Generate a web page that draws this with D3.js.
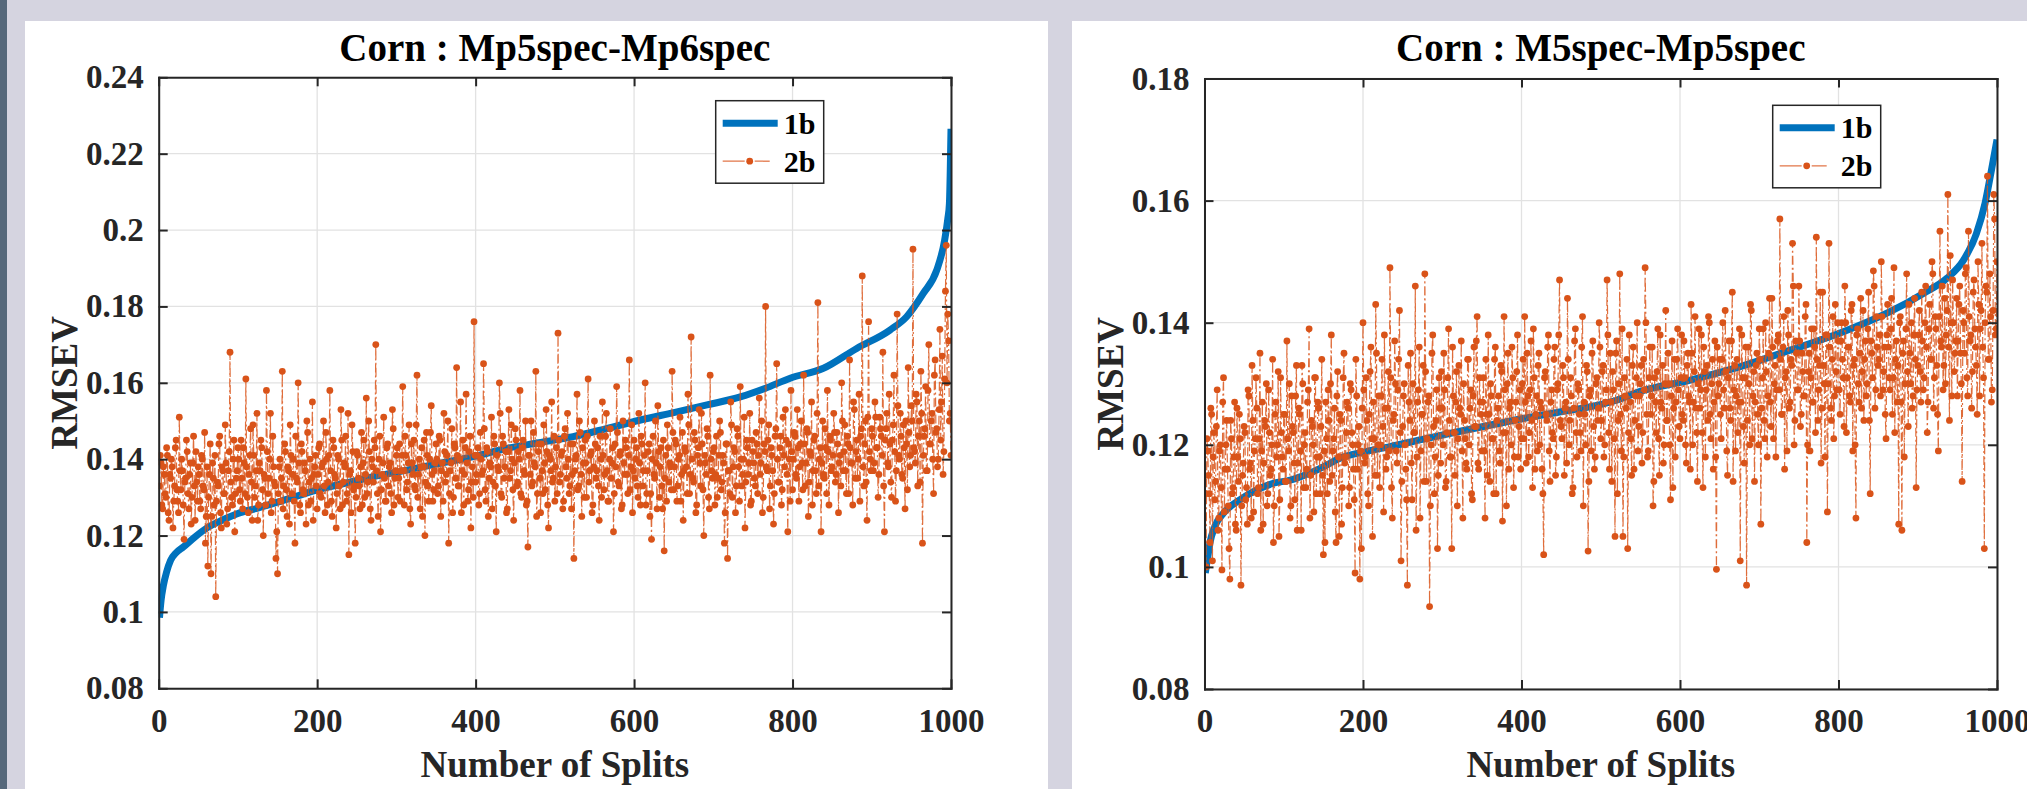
<html>
  <head>
    <meta charset="UTF-8">
    <script src="https://d3js.org/d3.v7.min.js"></script>
    <style type="text/css">
    body {
      margin: 0;
      background: #d5d4e0;
      overflow: hidden;
    }
    text {
      font-family: 'Liberation Serif', 'Times New Roman', serif;
      font-weight: bold;
    }
    </style>
  </head>
  <body>
  </body>
  <script>
    var splitsX = [0, 200, 400, 600, 800, 1000];
    var splitsLabels = ["0", "200", "400", "600", "800", "1000"];
    var leftTicksY = [0.08, 0.10, 0.12, 0.14, 0.16, 0.18, 0.20, 0.22, 0.24];
    var leftLabelsY = ["0.08", "0.1", "0.12", "0.14", "0.16", "0.18", "0.2", "0.22", "0.24"];
    var rightTicksY = [0.08, 0.10, 0.12, 0.14, 0.16, 0.18];
    var rightLabelsY = ["0.08", "0.1", "0.12", "0.14", "0.16", "0.18"];
    var seriesNames = ["1b", "2b"];

    // Mp5spec-Mp6spec : sorted 1b curve (split, RMSEV)
    var left1bX = [1,3,6,10,15,22,31,45,61,80,103,125,145,170,199,235,271,310,355,400,439,480,523,565,607,650,692,734,765,797,839,881,923,944,965,982,992,996,998,999,1000];
    var left1bY = [0.0985,0.103,0.107,0.1105,0.1135,0.1155,0.117,0.1195,0.122,0.124,0.126,0.1272,0.1284,0.130,0.1319,0.1337,0.1354,0.137,0.1389,0.1408,0.1428,0.1443,0.1459,0.148,0.1502,0.1522,0.1542,0.1563,0.1585,0.1612,0.1638,0.169,0.1738,0.1773,0.1834,0.1895,0.1974,0.203,0.207,0.215,0.2265];
    // Mp5spec-Mp6spec : 2b at odd splits 1,3,...,999
    var left2bOdd = [
      .133,.139,.127,.136,.130,.141,.124,.135,.138,.129,.143,.132,.126,.137,.140,.128,.134,.145,.131,.136,.123,.139,.133,.142,.129,
      .136,.127,.140,.132,.118,.138,.130,.144,.125,.135,.141,.129,.133,.146,.122,.137,.131,.139,.127,.142,.134,.128,.145,.131,.137,
      .140,.129,.135,.143,.131,.138,.126,.141,.134,.149,.130,.137,.124,.139,.145,.132,.136,.128,.142,.135,.152,.129,.138,.133,.121,
      .131,.140,.135,.127,.144,.132,.138,.123,.141,.136,.129,.146,.134,.139,.126,.142,.131,.137,.150,.128,.140,.135,.124,.138,.133,
      .136,.144,.130,.139,.133,.147,.128,.141,.137,.125,.143,.135,.131,.140,.127,.145,.134,.138,.129,.152,.136,.126,.142,.133,.130,
      .141,.133,.138,.128,.145,.136,.131,.150,.127,.140,.134,.143,.137,.125,.146,.132,.139,.135,.129,.144,.138,.131,.153,.128,.137,
      .143,.135,.129,.141,.137,.146,.132,.139,.127,.144,.136,.133,.149,.130,.140,.138,.125,.145,.134,.141,.129,.147,.136,.132,.139,
      .140,.133,.145,.137,.129,.142,.136,.150,.131,.139,.126,.144,.135,.141,.133,.155,.137,.128,.143,.139,.132,.146,.134,.130,.141,
      .136,.143,.131,.140,.137,.148,.129,.142,.135,.138,.127,.146,.133,.141,.137,.152,.130,.144,.138,.126,.142,.135,.149,.132,.139,
      .145,.134,.140,.131,.143,.137,.150,.129,.141,.136,.133,.147,.138,.125,.142,.135,.144,.131,.139,.153,.128,.141,.137,.134,.146,
      .138,.131,.145,.136,.142,.129,.148,.135,.140,.133,.127,.144,.137,.141,.132,.150,.136,.143,.130,.139,.146,.134,.141,.126,.138,
      .144,.137,.133,.146,.130,.141,.136,.152,.129,.140,.135,.143,.131,.138,.147,.133,.142,.128,.139,.145,.136,.141,.132,.149,.137,
      .135,.143,.130,.139,.146,.133,.141,.128,.137,.144,.131,.140,.136,.150,.127,.142,.138,.133,.145,.135,.129,.143,.139,.132,.147,
      .138,.144,.133,.141,.129,.147,.137,.142,.131,.149,.136,.140,.134,.145,.128,.143,.139,.152,.132,.141,.136,.146,.127,.140,.135,
      .143,.136,.130,.141,.147,.134,.139,.126,.144,.137,.131,.149,.138,.142,.133,.146,.129,.140,.136,.151,.134,.143,.139,.128,.145,
      .139,.133,.144,.141,.136,.150,.130,.142,.138,.145,.127,.143,.137,.131,.148,.140,.134,.146,.132,.141,.153,.136,.144,.129,.142,
      .140,.146,.135,.143,.138,.150,.132,.144,.139,.147,.134,.141,.128,.145,.137,.152,.133,.143,.139,.136,.148,.131,.142,.146,.137,
      .141,.147,.136,.144,.139,.133,.150,.142,.137,.146,.131,.143,.139,.155,.135,.145,.140,.129,.148,.138,.144,.134,.151,.142,.137,
      .146,.139,.151,.143,.136,.148,.141,.133,.145,.152,.138,.144,.130,.149,.142,.137,.154,.140,.146,.135,.143,.150,.132,.147,.141,
      .150,.143,.139,.155,.146,.134,.152,.141,.148,.137,.158,.144,.150,.140,.162,.147,.138,.153,.145,.167,.142,.184,.160,.171,.152
    ];
    // Mp5spec-Mp6spec : 2b at even splits 2,4,...,1000
    var left2bEven = [
      .141,.128,.138,.131,.143,.126,.136,.140,.122,.133,.145,.129,.151,.132,.137,.119,.135,.142,.127,.139,.130,.146,.124,.134,.138,
      .129,.141,.133,.147,.125,.112,.136,.110,.139,.128,.104,.134,.144,.126,.138,.131,.149,.123,.137,.168,.130,.140,.121,.135,.143,
      .132,.145,.127,.139,.161,.130,.136,.148,.124,.141,.133,.152,.128,.137,.143,.120,.135,.158,.131,.140,.126,.146,.134,.114,.110,
      .138,.129,.163,.133,.142,.125,.137,.149,.131,.140,.118,.135,.160,.128,.144,.132,.139,.123,.147,.134,.129,.155,.136,.141,.127,
      .143,.131,.138,.150,.126,.140,.134,.158,.129,.145,.136,.122,.141,.133,.153,.128,.139,.146,.131,.115,.137,.149,.132,.118,.142,
      .135,.127,.147,.139,.130,.156,.134,.142,.124,.138,.145,.170,.131,.140,.121,.136,.151,.129,.143,.133,.139,.126,.148,.135,.141,
      .130,.144,.137,.159,.128,.141,.134,.149,.123,.139,.145,.132,.162,.136,.127,.143,.138,.120,.147,.133,.140,.154,.129,.137,.144,
      .131,.146,.125,.139,.152,.134,.141,.118,.137,.148,.130,.143,.164,.133,.140,.126,.145,.136,.157,.129,.142,.122,.138,.176,.134,
      .141,.128,.147,.136,.165,.132,.143,.125,.139,.151,.134,.144,.121,.138,.160,.131,.146,.135,.142,.127,.153,.137,.140,.124,.148,
      .133,.142,.158,.130,.145,.136,.128,.117,.141,.150,.134,.139,.163,.131,.144,.126,.137,.149,.132,.142,.122,.140,.155,.135,.129,
      .143,.173,.134,.141,.127,.146,.138,.152,.131,.144,.136,.114,.140,.157,.133,.147,.125,.139,.145,.130,.161,.137,.142,.128,.150,
      .135,.143,.124,.140,.155,.132,.146,.137,.129,.148,.139,.121,.144,.159,.134,.141,.127,.150,.136,.143,.131,.166,.138,.126,.145,
      .140,.133,.152,.128,.144,.137,.160,.131,.142,.125,.119,.146,.135,.139,.154,.130,.143,.127,.116,.141,.149,.134,.138,.163,.132,
      .145,.129,.140,.151,.136,.124,.143,.138,.157,.131,.172,.135,.147,.126,.141,.153,.133,.144,.120,.139,.148,.130,.162,.137,.142,
      .128,.146,.135,.150,.132,.141,.118,.144,.114,.137,.155,.130,.143,.126,.148,.138,.159,.133,.140,.122,.145,.136,.152,.129,.142,
      .135,.147,.131,.156,.139,.126,.144,.180,.137,.149,.133,.141,.123,.146,.165,.134,.143,.128,.151,.138,.145,.121,.140,.158,.132,
      .147,.136,.153,.129,.144,.139,.162,.133,.148,.125,.142,.155,.137,.146,.131,.181,.140,.121,.150,.135,.143,.158,.128,.145,.138,
      .152,.134,.147,.126,.141,.160,.137,.149,.131,.144,.166,.139,.128,.153,.142,.135,.157,.146,.188,.133,.150,.124,.176,.140,.148,
      .137,.155,.143,.130,.151,.146,.168,.121,.148,.139,.157,.134,.145,.162,.129,.178,.141,.152,.136,.149,.127,.144,.164,.138,.154,
      .195,.142,.157,.133,.150,.163,.118,.146,.159,.137,.170,.144,.152,.131,.166,.148,.140,.174,.155,.136,.161,.196,.178,.150,.141
    ];

    // M5spec-Mp5spec : sorted 1b curve
    var right1bX = [1,4,7,13,24,45,66,87,108,130,150,171,200,234,275,318,360,402,445,486,520,549,613,676,739,802,865,907,937,958,974,985,993,1000];
    var right1bY = [0.099,0.1015,0.104,0.1066,0.1088,0.111,0.1126,0.1137,0.1142,0.1152,0.1164,0.1178,0.1188,0.1197,0.1209,0.1221,0.1232,0.1243,0.1253,0.1262,0.1273,0.1287,0.1306,0.1328,0.1355,0.1383,0.1418,0.1448,0.1473,0.1503,0.1546,0.1596,0.165,0.170];
    // M5spec-Mp5spec : 2b at odd splits
    var right2bOdd = [
      .112,.121,.115,.104,.125,.118,.111,.123,.106,.119,.113,.127,.109,.120,.116,.103,.124,.112,.118,.107,.126,.114,.121,.110,.117,
      .122,.113,.129,.116,.108,.124,.119,.131,.112,.121,.106,.127,.117,.123,.110,.129,.115,.120,.104,.125,.118,.132,.111,.122,.116,
      .125,.114,.121,.130,.110,.123,.117,.128,.106,.126,.119,.133,.113,.122,.116,.129,.108,.124,.120,.131,.112,.127,.118,.123,.115,
      .119,.127,.112,.124,.130,.115,.121,.109,.128,.118,.125,.107,.131,.117,.122,.126,.113,.129,.120,.111,.134,.116,.123,.119,.126,
      .129,.118,.124,.110,.132,.121,.127,.115,.135,.120,.113,.128,.123,.138,.116,.126,.119,.131,.108,.125,.130,.117,.134,.122,.114,
      .128,.120,.111,.133,.124,.117,.130,.122,.106,.127,.136,.119,.125,.114,.132,.121,.128,.110,.135,.123,.118,.129,.115,.126,.132,
      .120,.129,.114,.131,.124,.118,.136,.122,.127,.110,.133,.125,.119,.130,.121,.116,.134,.126,.112,.128,.123,.137,.117,.131,.125,
      .127,.119,.134,.115,.125,.130,.121,.112,.136,.124,.128,.117,.132,.122,.129,.110,.135,.126,.120,.131,.118,.127,.138,.123,.116,
      .130,.121,.127,.135,.118,.129,.124,.139,.116,.128,.133,.120,.126,.112,.131,.125,.136,.119,.127,.122,.134,.115,.129,.138,.124,
      .121,.131,.126,.117,.134,.124,.128,.113,.137,.122,.130,.125,.119,.141,.127,.120,.132,.114,.129,.135,.123,.118,.131,.126,.136,
      .124,.133,.120,.129,.138,.116,.127,.132,.121,.135,.112,.130,.125,.139,.118,.128,.134,.122,.127,.115,.136,.124,.131,.119,.128,
      .133,.122,.129,.140,.118,.131,.125,.136,.114,.127,.132,.121,.138,.126,.117,.130,.124,.135,.120,.128,.113,.134,.127,.139,.123,
      .131,.125,.137,.120,.133,.128,.116,.135,.127,.141,.122,.130,.126,.138,.113,.132,.129,.124,.140,.121,.134,.127,.118,.136,.130,
      .125,.134,.129,.142,.119,.131,.126,.137,.114,.133,.128,.122,.139,.127,.131,.117,.136,.124,.130,.143,.121,.132,.127,.135,.120,
      .134,.126,.139,.121,.132,.128,.144,.123,.136,.130,.118,.137,.129,.134,.125,.141,.131,.119,.138,.127,.133,.146,.124,.135,.129,
      .137,.125,.132,.128,.143,.120,.135,.131,.127,.139,.122,.134,.129,.145,.126,.133,.118,.138,.130,.136,.124,.141,.128,.132,.140,
      .129,.137,.134,.123,.140,.131,.136,.127,.143,.133,.120,.138,.130,.135,.126,.142,.134,.128,.139,.124,.137,.131,.146,.129,.136,
      .134,.128,.141,.132,.125,.138,.136,.129,.144,.131,.122,.137,.133,.140,.127,.135,.118,.139,.132,.143,.130,.126,.138,.134,.129,
      .138,.132,.145,.129,.140,.136,.127,.143,.134,.148,.131,.139,.125,.141,.137,.146,.133,.130,.142,.136,.151,.128,.140,.135,.144,
      .137,.146,.130,.142,.135,.149,.128,.141,.138,.132,.147,.136,.125,.143,.139,.153,.131,.140,.145,.134,.148,.127,.142,.157,.139
    ];
    // M5spec-Mp5spec : 2b at even splits
    var right2bEven = [
      .100,.119,.112,.126,.101,.122,.114,.129,.108,.120,.0995,.131,.116,.124,.110,.098,.121,.113,.127,.106,.118,.125,.097,.115,.123,
      .111,.107,.128,.117,.133,.109,.121,.126,.113,.135,.119,.107,.124,.130,.112,.122,.116,.134,.110,.127,.120,.105,.131,.118,.125,
      .114,.137,.119,.108,.128,.122,.111,.133,.117,.125,.106,.130,.120,.113,.127,.139,.115,.123,.109,.131,.118,.126,.112,.134,.102,
      .104,.121,.129,.114,.138,.119,.126,.104,.132,.105,.124,.113,.135,.118,.127,.110,.130,.122,.116,.099,.128,.120,.098,.103,.140,
      .117,.131,.112,.125,.136,.105,.121,.143,.115,.128,.120,.134,.109,.126,.118,.132,.149,.113,.124,.137,.119,.129,.142,.101,.123,
      .130,.116,.097,.127,.135,.111,.122,.146,.118,.129,.108,.125,.133,.148,.114,.127,.0935,.120,.138,.112,.124,.103,.131,.117,.126,
      .135,.113,.122,.139,.118,.103,.128,.115,.132,.121,.126,.137,.108,.124,.117,.134,.120,.129,.111,.136,.123,.141,.116,.127,.119,
      .131,.108,.125,.138,.114,.128,.121,.134,.112,.126,.119,.133,.1075,.141,.122,.130,.116,.127,.136,.113,.124,.132,.118,.129,.121,
      .134,.141,.117,.128,.122,.137,.113,.131,.125,.119,.135,.127,.116,.102,.132,.124,.138,.114,.129,.121,.136,.118,.130,.147,.123,
      .133,.115,.127,.144,.120,.131,.112,.126,.139,.118,.129,.122,.136,.110,.125,.133,.1026,.128,.119,.137,.116,.130,.124,.140,.121,
      .132,.118,.127,.147,.122,.135,.114,.129,.105,.137,.124,.148,.119,.105,.131,.126,.103,.138,.121,.133,.116,.128,.140,.123,.130,
      .117,.134,.149,.125,.119,.136,.128,.110,.131,.122,.139,.115,.127,.133,.120,.142,.124,.130,.111,.137,.126,.118,.134,.129,.121,
      .138,.124,.131,.117,.135,.127,.143,.120,.132,.126,.114,.139,.129,.122,.136,.118,.133,.141,.125,.130,.116,.137,.0996,.128,.134,
      .121,.140,.126,.132,.115,.137,.124,.145,.129,.119,.134,.127,.101,.138,.123,.131,.097,.136,.120,.142,.128,.114,.133,.125,.139,
      .107,.131,.124,.140,.118,.135,.127,.144,.121,.133,.129,.138,.157,.125,.136,.116,.132,.142,.126,.134,.153,.120,.137,.129,.146,
      .123,.135,.128,.141,.104,.132,.119,.139,.127,.136,.154,.124,.133,.117,.145,.130,.138,.109,.153,.126,.134,.121,.143,.129,.137,
      .125,.140,.131,.146,.122,.136,.128,.142,.119,.134,.108,.139,.127,.144,.132,.124,.137,.130,.145,.112,.135,.1485,.126,.141,.133,
      .138,.150,.129,.136,.121,.143,.131,.139,.125,.149,.134,.127,.107,.141,.106,.137,.130,.148,.123,.135,.140,.128,.144,.113,.133,
      .142,.127,.137,.131,.146,.122,.139,.134,.150,.126,.141,.133,.119,.155,.136,.129,.144,.138,.161,.124,.140,.147,.132,.137,.128,
      .143,.135,.114,.140,.148,.131,.155,.137,.126,.145,.139,.133,.150,.128,.142,.136,.103,.146,.164,.134,.141,.129,.161,.138,.150
    ];

    var blue = "#0072bd", orange = "#d95319", axisColor = "#262626";

    var svg = d3.select("body")
      .append("svg")
        .attr("width", 2027)
        .attr("height", 789);

    // dark strip on the far left of the screenshot
    svg.append("rect")
      .attr("x", 0).attr("y", 0)
      .attr("width", 7).attr("height", 789)
      .attr("fill", "#56687b");

    function styleAxis(a) {
      a.attr("font-family", null).attr("font-size", null);
      a.select(".domain")
        .attr("stroke", axisColor)
        .attr("stroke-width", 2)
        .attr("stroke-linecap", "square");
      a.selectAll(".tick line")
        .attr("stroke", axisColor)
        .attr("stroke-width", 2);
      a.selectAll(".tick text")
        .attr("fill", axisColor)
        .style("font-size", "33px");
    }

    function createGraph(conf) {
      // odd and even splits interleaved -> splits 1..1000
      var series2b = d3.merge(d3.zip(conf.odd2b, conf.even2b));

      var x = d3.scaleLinear()
        .domain([0, 1000])
        .range([conf.left, conf.right]);
      var y = d3.scaleLinear()
        .domain([conf.yTicks[0], conf.yTicks[conf.yTicks.length - 1]])
        .range([conf.bottom, conf.top]);
      var width = conf.right - conf.left,
          height = conf.bottom - conf.top;

      // white figure panel
      svg.append("rect")
        .attr("x", conf.panel[0]).attr("y", conf.panel[1])
        .attr("width", conf.panel[2]).attr("height", conf.panel[3])
        .attr("fill", "#fff");

      // grid
      var grid = svg.append("g")
        .attr("stroke", "#e2e2e2")
        .attr("stroke-width", 1.3);
      grid.selectAll("line.gx")
        .data(splitsX)
        .join("line")
          .attr("class", "gx")
          .attr("x1", function(d) { return x(d); })
          .attr("x2", function(d) { return x(d); })
          .attr("y1", conf.top)
          .attr("y2", conf.bottom);
      grid.selectAll("line.gy")
        .data(conf.yTicks)
        .join("line")
          .attr("class", "gy")
          .attr("x1", conf.left)
          .attr("x2", conf.right)
          .attr("y1", function(d) { return y(d); })
          .attr("y2", function(d) { return y(d); });

      svg.append("clipPath")
        .attr("id", conf.id)
        .append("rect")
          .attr("x", conf.left).attr("y", conf.top)
          .attr("width", width).attr("height", height);
      var plot = svg.append("g").attr("clip-path", "url(#" + conf.id + ")");

      // 1b, sorted
      plot.append("path")
        .datum(d3.range(conf.x1b.length))
        .attr("fill", "none")
        .attr("stroke", blue)
        .attr("stroke-width", 7)
        .attr("stroke-linejoin", "round")
        .attr("d", d3.line()
          .curve(d3.curveMonotoneX)
          .x(function(i) { return x(conf.x1b[i]); })
          .y(function(i) { return y(conf.y1b[i]); })
          );

      // 2b, dash-dot with point markers
      plot.append("path")
        .datum(series2b)
        .attr("fill", "none")
        .attr("stroke", orange)
        .attr("stroke-width", 1.2)
        .attr("stroke-opacity", 0.85)
        .attr("stroke-dasharray", "9,3,2,3")
        .attr("d", d3.line()
          .x(function(d, i) { return x(i + 1); })
          .y(function(d) { return y(d); })
          );
      plot.append("g")
        .attr("fill", orange)
        .selectAll("circle")
        .data(series2b)
        .join("circle")
          .attr("cx", function(d, i) { return x(i + 1); })
          .attr("cy", function(d) { return y(d); })
          .attr("r", 3.4);

      // box axes, ticks pointing inward
      svg.append("g")
        .attr("transform", "translate(0," + conf.bottom + ")")
        .call(d3.axisBottom(x).tickValues(splitsX)
          .tickFormat(function(d, i) { return splitsLabels[i]; })
          .tickSizeInner(-9).tickSizeOuter(0).tickPadding(20))
        .call(styleAxis);
      svg.append("g")
        .attr("transform", "translate(0," + conf.top + ")")
        .call(d3.axisTop(x).tickValues(splitsX).tickFormat("")
          .tickSizeInner(-9).tickSizeOuter(0))
        .call(styleAxis);
      svg.append("g")
        .attr("transform", "translate(" + conf.left + ",0)")
        .call(d3.axisLeft(y).tickValues(conf.yTicks)
          .tickFormat(function(d, i) { return conf.yLabels[i]; })
          .tickSizeInner(-9).tickSizeOuter(0).tickPadding(15))
        .call(styleAxis);
      svg.append("g")
        .attr("transform", "translate(" + conf.right + ",0)")
        .call(d3.axisRight(y).tickValues(conf.yTicks).tickFormat("")
          .tickSizeInner(-9).tickSizeOuter(0))
        .call(styleAxis);

      // title and axis labels
      var cx = (conf.left + conf.right) / 2;
      svg.append("text")
        .attr("x", cx)
        .attr("y", 61)
        .attr("text-anchor", "middle")
        .style("font-size", "39px")
        .attr("fill", "#000")
        .text(conf.title);
      svg.append("text")
        .attr("x", cx)
        .attr("y", 777)
        .attr("text-anchor", "middle")
        .style("font-size", "37px")
        .attr("fill", axisColor)
        .text("Number of Splits");
      svg.append("text")
        .attr("transform", "translate(" + (conf.left - 82) + "," + ((conf.top + conf.bottom) / 2) + ") rotate(-90)")
        .attr("text-anchor", "middle")
        .style("font-size", "37px")
        .attr("fill", axisColor)
        .text("RMSEV");

      // legend
      var lg = svg.append("g")
        .attr("transform", "translate(" + conf.legend[0] + "," + conf.legend[1] + ")");
      lg.append("rect")
        .attr("width", 108).attr("height", 82.5)
        .attr("fill", "#fff")
        .attr("stroke", axisColor)
        .attr("stroke-width", 1.5);
      lg.append("line")
        .attr("x1", 7).attr("x2", 62)
        .attr("y1", 22.5).attr("y2", 22.5)
        .attr("stroke", blue)
        .attr("stroke-width", 7);
      lg.append("line")
        .attr("x1", 7).attr("x2", 54)
        .attr("y1", 60.5).attr("y2", 60.5)
        .attr("stroke", orange)
        .attr("stroke-opacity", 0.8)
        .attr("stroke-width", 1.3)
        .attr("stroke-dasharray", "22,4,2,4");
      lg.append("circle")
        .attr("cx", 34).attr("cy", 60.5).attr("r", 3.4)
        .attr("fill", orange);
      lg.selectAll("text")
        .data(seriesNames)
        .join("text")
          .attr("x", 68)
          .attr("y", function(d, i) { return i ? 71 : 33; })
          .style("font-size", "30px")
          .attr("fill", "#000")
          .text(function(d) { return d; });
    }

    createGraph({
      id: "clipLeft",
      title: "Corn : Mp5spec-Mp6spec",
      panel: [25, 21, 1023, 768],
      left: 158.7, right: 951, top: 77.3, bottom: 688.3,
      yTicks: leftTicksY,
      yLabels: leftLabelsY,
      x1b: left1bX, y1b: left1bY,
      odd2b: left2bOdd, even2b: left2bEven,
      legend: [715.7, 100.7]
    });
    createGraph({
      id: "clipRight",
      title: "Corn : M5spec-Mp5spec",
      panel: [1072, 21, 960, 768],
      left: 1204.5, right: 1997, top: 78.5, bottom: 689,
      yTicks: rightTicksY,
      yLabels: rightLabelsY,
      x1b: right1bX, y1b: right1bY,
      odd2b: right2bOdd, even2b: right2bEven,
      legend: [1772.7, 105.3]
    });
  </script>
</html>
